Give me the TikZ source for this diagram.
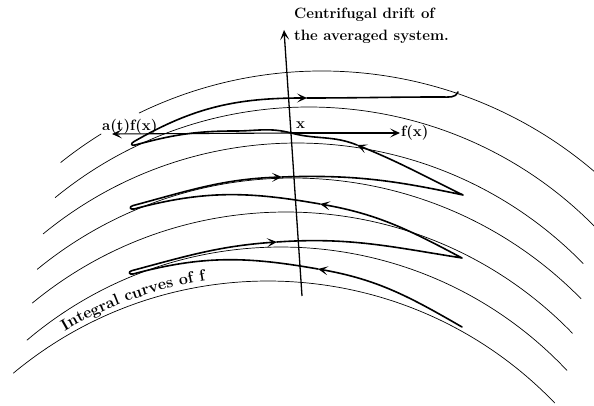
\documentclass[tikz,border=0pt]{standalone}
\usetikzlibrary{arrows.meta,decorations.text}

\begin{document}
\begin{tikzpicture}[
    x=1pt,y=1pt,
    font=\fontsize{15}{22}\selectfont\bfseries,
    flow/.style={line width=0.7pt},
    orbit/.style={line width=1.6pt,line cap=round,line join=round},
    head/.style={-{Stealth[length=10pt,width=9pt,inset=5pt]}},
    vec/.style={line width=1.1pt,-{Stealth[length=10pt,width=9pt,inset=5pt]}},
    lbl/.style={inner sep=1pt}
  ]
    \clip (0,0) rectangle (594,406);

    % centres of the integral curves
    \coordinate (c1) at (322,-84);
    \coordinate (c2) at (309,-102);
    \coordinate (c3) at (297,-137);
    \coordinate (c4) at (293,-176);
    \coordinate (c5) at (286,-205);
    \coordinate (c6) at (281,-234);
    \coordinate (c7) at (268,-273);

    \draw[flow] (c1) ++(128.6:419) arc[start angle=128.6,end angle=121.8,radius=419];
    \draw[flow] (c1) ++(115.9:419) arc[start angle=115.9,end angle=40,radius=419];
    \draw[flow] (c2) ++(129.3:401) arc[start angle=129.3,end angle=40,radius=401];
    \draw[flow] (c3) ++(129.4:400) arc[start angle=129.4,end angle=44.3,radius=400];
    \draw[flow] (c4) ++(129.3:404) arc[start angle=129.3,end angle=44.5,radius=404];
    \draw[flow] (c5) ++(129.5:399) arc[start angle=129.5,end angle=44.1,radius=399];
    \draw[flow] (c6) ++(130.3:393) arc[start angle=130.3,end angle=43.3,radius=393];
    \draw[flow] (c7) ++(129.8:398) arc[start angle=129.8,end angle=43.9,radius=398];

    \path (c7) ++(120.3:403) coordinate (txtstart);
    \path[decorate,decoration={text along path,
        text={|\fontsize{16}{18}\selectfont\bfseries|Integral curves of f}}]
      (txtstart) arc[start angle=120.3,end angle=92,radius=403];

    % drift of the averaged system
    \coordinate (dbot) at (302,110);
    \coordinate (dtop) at (284,376);
    \coordinate (x) at (291,273);
    \draw[vec,line width=1.3pt] (dbot) -- (dtop);
    \node[lbl,anchor=north west,align=left,inner sep=0pt] (drift) at (294,398)
      {Centrifugal drift of\\the averaged system.};

    % the perturbed motion
    \coordinate (s) at (462,79);
    \coordinate (a6) at (318,137);
    \coordinate (t6a) at (133,132);
    \coordinate (t6b) at (131.7,135.3);
    \coordinate (a5) at (277,164);
    \coordinate (r5) at (462,148);
    \coordinate (a4) at (320,202);
    \coordinate (t4a) at (134,197);
    \coordinate (t4b) at (132.6,200.3);
    \coordinate (a3) at (282,229);
    \coordinate (r3) at (463,211);
    \coordinate (a2) at (357,261);
    \coordinate (w) at (235,275);
    \coordinate (t2a) at (135,261);
    \coordinate (t2b) at (133.8,264.3);
    \coordinate (a1) at (307,308);
    \coordinate (h) at (442,309);
    \coordinate (e) at (458,314);

    \draw[orbit,head] (s) to[out=150,in=-10] (a6);
    \draw[orbit,head] (a6) to[out=170,in=15] (t6a)
      to[out=195,in=195,distance=4pt] (t6b) to[out=15,in=184] (a5);
    \draw[orbit,head] (a5) to[out=4,in=171] (r5) to[out=152,in=-10] (a4);
    \draw[orbit,head] (a4) to[out=170,in=15] (t4a)
      to[out=195,in=195,distance=4pt] (t4b) to[out=15,in=182] (a3);
    \draw[orbit,head] (a3) to[out=2,in=168] (r3) to[out=154,in=-22] (a2);
    \draw[orbit,head] (a2) to[out=158,in=-15] (x) to[out=165,in=0] (w)
      to[out=180,in=15] (t2a)
      to[out=195,in=210,distance=4pt] (t2b) to[out=30,in=180] (a1);
    \draw[orbit] (a1) to[out=0,in=180] (h) to[out=0,in=-110] (e);

    % vectors at x
    \coordinate (atip) at (112,272);
    \node[lbl,anchor=west] (fx) at (400,273) {f(x)};
    \node[lbl,anchor=base west] (xl) at (295,277.5) {x};
    \node[lbl,anchor=base west] (afx) at (101,275) {a(t)f(x)};
    \draw[vec] (x) -- (fx.west);
    \draw[vec] (x) -- (atip);
  \end{tikzpicture}
\end{document}
